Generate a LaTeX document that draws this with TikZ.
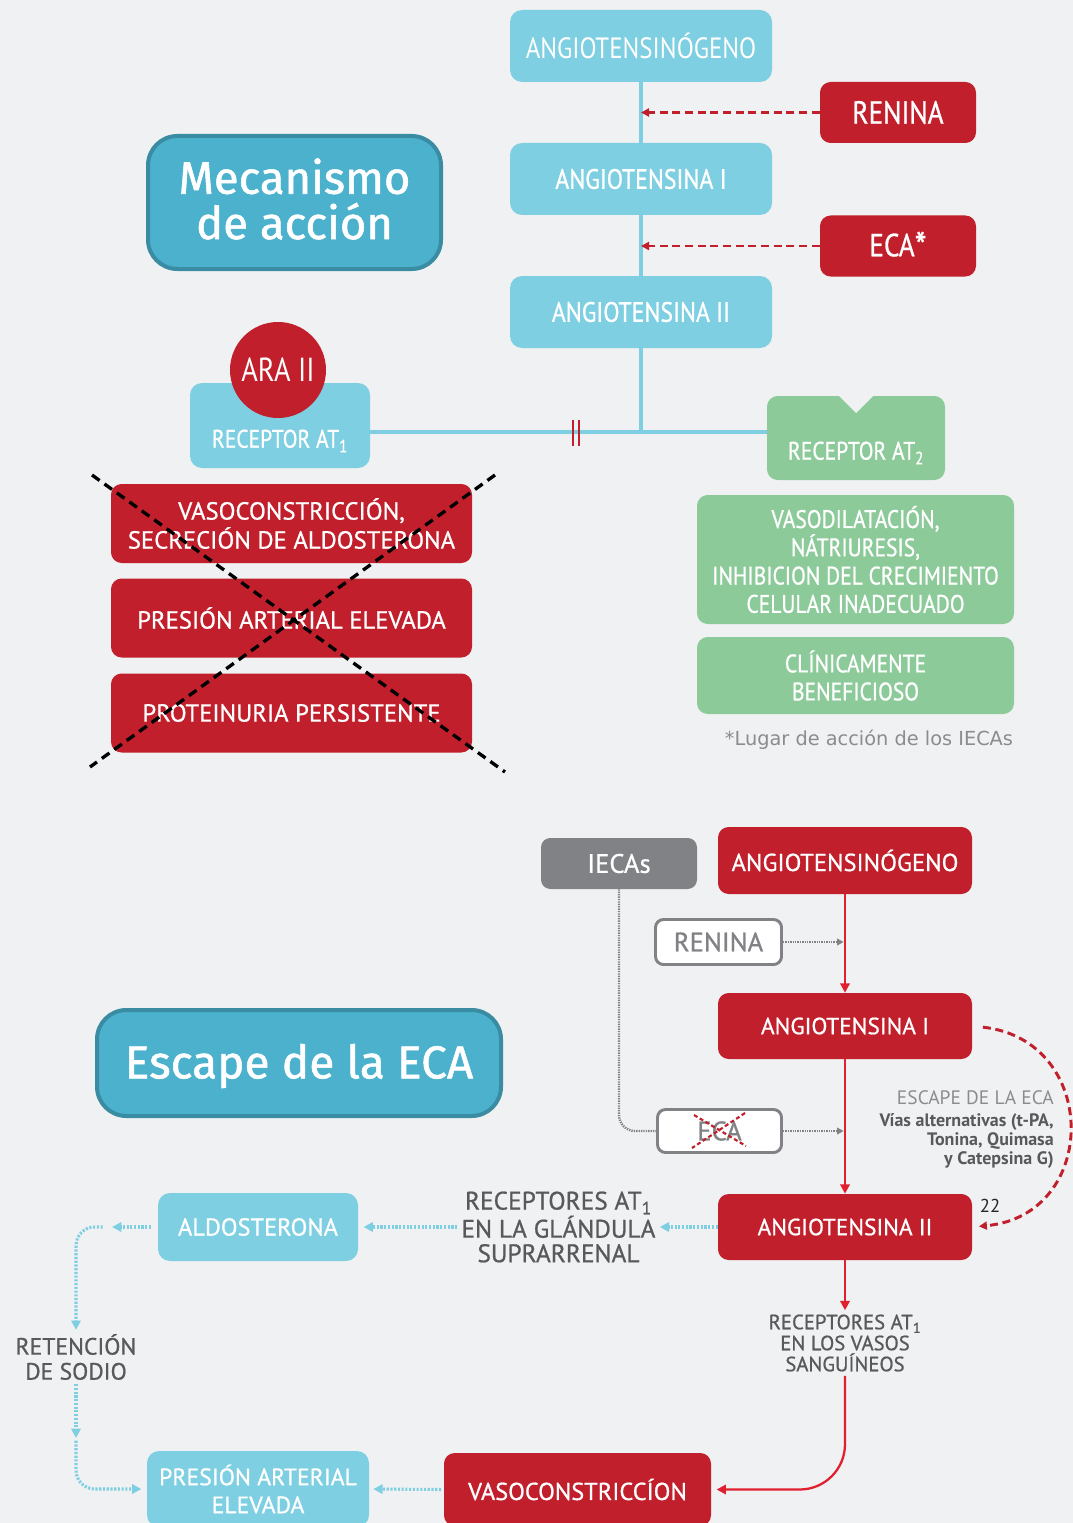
\documentclass[tikz,border=0pt]{standalone}
\usepackage{fontspec}
\setmainfont{PT Sans}
\newfontfamily\boxfont[FakeBold=0.8]{PT Sans}
\newfontfamily\condfont[FakeStretch=0.85,FakeBold=0.8]{PT Sans}
\newfontfamily\lightcond[FakeStretch=0.85]{PT Sans}
\newfontfamily\titlefont[FakeBold=1.2]{Fira Sans}
\newfontfamily\notefont{DejaVu Sans}
\usetikzlibrary{arrows.meta}
\newcommand{\fsz}[2]{\fontsize{#1}{#2}\selectfont}

\definecolor{bgcol}{HTML}{F0F1F3}
\definecolor{skyblue}{HTML}{7ECFE2}
\definecolor{raared}{HTML}{C01F2B}
\definecolor{brightred}{HTML}{E0202F}
\definecolor{leafgreen}{HTML}{8DCA9A}
\definecolor{titleblue}{HTML}{4BB1CD}
\definecolor{titleedge}{HTML}{3A8CA3}
\definecolor{boxgray}{HTML}{808285}
\definecolor{txtgray}{HTML}{58595B}
\definecolor{lightgray}{HTML}{8A8C8E}

\tikzset{
  sz/.style 2 args={minimum width=#1*0.75pt, minimum height=#2*0.75pt, inner sep=0pt},
  bluebox/.style={fill=skyblue, rounded corners=9pt, text=white, align=center},
  redbox/.style={fill=raared, rounded corners=8pt, text=white, align=center},
  greenbox/.style={fill=leafgreen, rounded corners=8pt, text=white, align=center},
  outbox/.style={fill=white, draw=boxgray, line width=2.2pt, rounded corners=6pt, text=boxgray},
  titlebox/.style={fill=titleblue, draw=titleedge, line width=3pt, rounded corners=22pt},
  label/.style={align=center, inner sep=3pt},
  bluelink/.style={skyblue, line width=3pt},
  reddash/.style={raared, line width=2.2pt, dash pattern=on 6pt off 3.5pt, -{Triangle[length=6pt,width=6pt]}},
  crossline/.style={black, line width=2.5pt, dash pattern=on 7pt off 4.5pt},
  dotgray/.style={boxgray, line width=1.8pt, dash pattern=on 1pt off 0.8pt},
  dotblue/.style={skyblue, line width=2.3pt, dash pattern=on 1.6pt off 1.2pt, -{Triangle[length=7pt,width=7pt]}},
  redflow/.style={brightred, line width=1.7pt, -{Triangle[length=7pt,width=7pt]}},
}

\begin{document}
\begin{tikzpicture}[x=0.75pt,y=0.75pt,yscale=-1,xscale=1]
%Background
\fill[bgcol] (0,0) rectangle (1073,1523);
\useasboundingbox (0,0) rectangle (1073,1523);

%Title boxes
\node[titlebox, sz={293}{133}] (mecanismo) at (294.5,202.5) {};
\node[label, text=white, font={\titlefont\fsz{34}{34}}] (mectxt) at (294.5,199) {Mecanismo\\de acción};
\node[titlebox, sz={404}{106}] (escape) at (299,1063) {};
\node[label, text=white, font={\titlefont\fsz{34.5}{34}}] (esctxt) at (299,1066) {Escape de la ECA};

%Upper cascade
\node[bluebox, sz={262}{72}, font={\lightcond\fsz{22}{22}}] (angO) at (641,46) {ANGIOTENSINÓGENO};
\node[redbox, sz={156}{61}, font={\condfont\fsz{24}{24}}] (renina) at (898,112.5) {RENINA};
\node[bluebox, sz={262}{72}, font={\condfont\fsz{21}{21}}] (angI) at (641,179) {ANGIOTENSINA I};
\node[redbox, sz={156}{61}, font={\condfont\fsz{24}{24}}] (eca) at (898,246) {ECA\raisebox{-0.25ex}{\fsz{30}{30}*}};
\node[bluebox, sz={262}{72}, font={\condfont\fsz{21}{21}}] (angII) at (641,312) {ANGIOTENSINA II};

%Straight Lines
\draw[bluelink] (angO.south) -- (angI.north);
\draw[bluelink] (angI.south) -- (angII.north);
\draw[reddash] (renina.west) -- (renina.west -| angO.south);
\draw[reddash] (eca.west) -- (eca.west -| angI.south);

%Receptors
\node[bluebox, sz={180}{85}] (rat1) at (280,425.5) {};
\node[label, text=white, font={\condfont\fsz{19}{19}}] (rat1txt) at (280,441) {RECEPTOR AT\textsubscript{1}};
\node[circle, fill=raared, minimum size=96*0.75pt, inner sep=0pt, text=white, font={\lightcond\fsz{25}{25}}] (ara) at (278,370) {ARA II};
\node[greenbox, sz={178}{84}] (rat2) at (856,438) {};
\fill[bgcol] (837,394) -- (875,394) -- (856,413) -- cycle;
\node[label, text=white, font={\condfont\fsz{19}{19}}] (rat2txt) at (856,453) {RECEPTOR AT\textsubscript{2}};

\coordinate (junc) at (641,432);
\draw[bluelink] (angII.south) -- (junc);
\draw[bluelink] (rat1.east |- junc) -- (rat2.west |- junc);
\draw[raared, line width=2pt] (573,420) -- (573,446) (579,420) -- (579,446);

%Effects AT1
\node[redbox, sz={361}{79}, font={\boxfont\fsz{18.5}{21.75}}] (efA) at (291.5,523.5) {VASOCONSTRICCIÓN,\\SECRECIÓN DE ALDOSTERONA};
\node[redbox, sz={361}{79}, font={\boxfont\fsz{18.5}{21.75}}] (efB) at (291.5,618) {PRESIÓN ARTERIAL ELEVADA};
\node[redbox, sz={361}{79}, font={\boxfont\fsz{18.5}{21.75}}] (efC) at (291.5,713) {PROTEINURIA PERSISTENTE};
\coordinate (xa1) at (92,475);
\coordinate (xa2) at (505,772);
\coordinate (xb1) at (495,475);
\coordinate (xb2) at (90,767);
\draw[crossline] (xa1) -- (xa2);
\draw[crossline] (xb1) -- (xb2);

%Effects AT2
\node[greenbox, sz={317}{129}, font={\condfont\fsz{19}{21.2}}] (efD) at (855.5,559.5) {VASODILATACIÓN,\\NÁTRIURESIS,\\INHIBICION DEL CRECIMIENTO\\CELULAR INADECUADO};
\node[greenbox, sz={317}{77}, font={\condfont\fsz{19}{21}}] (efE) at (855.5,675.5) {CLÍNICAMENTE\\BENEFICIOSO};
% Text Node
\node[label, text=lightgray, font={\notefont\fsz{14.5}{14.5}}] (nota) at (869,740) {*Lugar de acción de los IECAs};

%Lower cascade
\node[fill=boxgray, rounded corners=7pt, sz={156}{51}, text=white, font={\boxfont\fsz{20}{20}}] (iecas) at (619,863.5) {IECAs};
\node[redbox, sz={254}{67}, font={\boxfont\fsz{18.4}{18.4}}] (angOb) at (845,860.5) {ANGIOTENSINÓGENO};
\node[outbox, sz={126}{45}, font={\boxfont\fsz{20}{20}}] (reninab) at (718.5,942) {RENINA};
\node[redbox, sz={254}{66}, font={\boxfont\fsz{17.5}{17.5}}] (angIb) at (845,1026) {ANGIOTENSINA I};
\node[outbox, sz={124}{43}, font={\boxfont\fsz{20}{20}}] (ecab) at (719.5,1131) {ECA};
\node[redbox, sz={254}{66}, font={\boxfont\fsz{17.5}{17.5}}] (angIIb) at (845,1227) {ANGIOTENSINA II};

\draw[redflow] (angOb.south) -- (angIb.north);
\draw[redflow] (angIb.south) -- (angIIb.north);
\draw[dotgray, -{Triangle[length=5pt,width=5pt]}] (reninab.east) -- ([xshift=-1pt]reninab.east -| angIb.north);
\draw[dotgray, -{Triangle[length=5pt,width=5pt]}] (ecab.east) -- ([xshift=-1pt]ecab.east -| angIb.north);
\draw[dotgray, rounded corners=12pt] (iecas.south) |- (ecab.west);
\draw[raared, line width=1.6pt, dash pattern=on 3pt off 2pt] (694,1115) -- (746,1146) (745,1113) -- (692,1148);

% Text Node
\node[label, anchor=east, text=lightgray, font={\fsz{14.6}{14.6}}] (esctit) at (1058,1098) {ESCAPE DE LA ECA};
\node[label, anchor=north east, align=right, text=txtgray, font={\bfseries\fsz{13.5}{14.25}}] (escvias) at (esctit.south east) {Vías alternativas (t-PA,\\Tonina, Quimasa\\y Catepsina G)};
\draw[reddash, shorten <=8pt, shorten >=5pt] (angIb.east) .. controls (1100,1040) and (1100,1215) .. (angIIb.east);
\node[label, font={\fsz{14}{14}}, text=black!85] (ref) at (990,1206) {22};

%Feedback loop
\node[label, text=txtgray, font={\boxfont\fsz{19}{18.4}}] (recglan) at (558.5,1227) {RECEPTORES AT\textsubscript{1}\\EN LA GLÁNDULA\\SUPRARRENAL};
\node[bluebox, sz={200}{68}, font={\boxfont\fsz{18.3}{18.3}}] (aldo) at (258,1227) {ALDOSTERONA};
\node[label, text=txtgray, font={\boxfont\fsz{17.7}{18.75}}] (reten) at (76,1357) {RETENCIÓN\\DE SODIO};
\node[bluebox, sz={222}{76}, font={\boxfont\fsz{17.8}{21}}] (presion) at (258,1489) {PRESIÓN ARTERIAL\\ELEVADA};
\node[redbox, sz={267}{73}, font={\boxfont\fsz{18.3}{18.3}}] (vaso) at (577.5,1489.5) {VASOCONSTRICCÍON};
\node[label, text=txtgray, font={\boxfont\fsz{15.5}{15.75}}] (recvas) at (845,1343) {RECEPTORES AT\textsubscript{1}\\EN LOS VASOS\\SANGUÍNEOS};
\coordinate (aldoL) at (112,1227);
\coordinate (retTip) at (76,1438);

\draw[dotblue] (angIIb.west) -- (recglan.east);
\draw[dotblue, shorten >=4pt] (recglan.west) -- (aldo.east);
\draw[dotblue, shorten <=5pt] (aldo.west) -- (aldoL);
\draw[dotblue, rounded corners=14pt, shorten <=7pt] (aldoL) -| (reten.north);
\draw[dotblue] (reten.south) -- (retTip);
\draw[dotblue, rounded corners=14pt, shorten <=2pt, shorten >=4pt] (retTip) |- (presion.west);
\draw[dotblue, shorten <=2pt, shorten >=3pt] (vaso.west) -- (presion.east);
\draw[redflow] (angIIb.south) -- (recvas.north);
\draw[redflow, rounded corners=34pt, shorten >=4pt] (recvas.south) |- (vaso.east);

\end{tikzpicture}
\end{document}
